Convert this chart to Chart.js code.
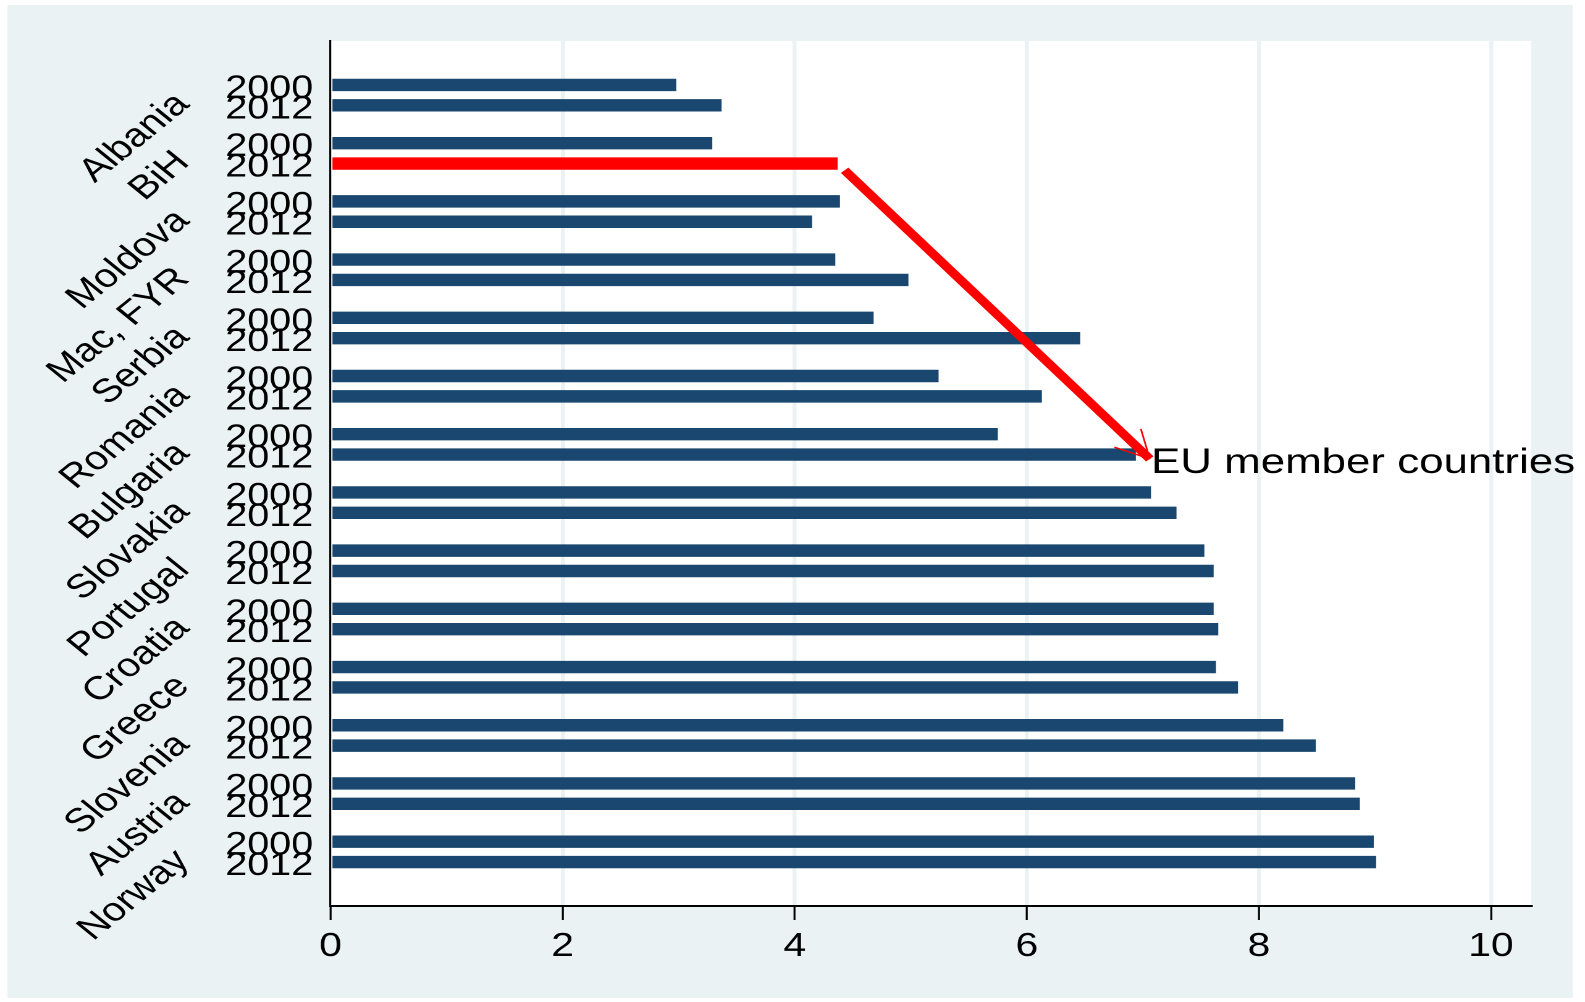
<!DOCTYPE html>
<html lang="en">
<head>
<meta charset="UTF-8">
<title>2000 vs 2012 by country</title>
<script src="https://cdn.jsdelivr.net/npm/chart.js@4"></script>
<style>
  body { margin: 0; background: #fff; }
  #wrap { width: 1585px; height: 1002px; overflow: hidden; }
  /* the original graph is stretched sideways, text included */
  #chart { transform: scaleX(1.2354); transform-origin: 0 0; }
</style>
</head>
<body>
<div id="wrap"><canvas id="chart" width="1283" height="1002"></canvas></div>
<script>
const countries = ['Albania', 'BiH', 'Moldova', 'Mac, FYR', 'Serbia', 'Romania', 'Bulgaria',
                   'Slovakia', 'Portugal', 'Croatia', 'Greece', 'Slovenia', 'Austria', 'Norway'];
const years = ['2000', '2012'];
const values2000 = [2.98, 3.29, 4.39, 4.35, 4.68, 5.24, 5.75, 7.07, 7.53, 7.61, 7.63, 8.21, 8.83, 8.99];
const values2012 = [3.37, 4.37, 4.15, 4.98, 6.46, 6.13, 6.94, 7.29, 7.61, 7.65, 7.82, 8.49, 8.87, 9.01];
const xTicks = [0, 2, 4, 6, 8, 10];
const highlight = 'BiH';
// arrow in data units: [value, country position]
const arrowStart = [4.43, 1.29];
const arrowEnd = [7.06, 6.25];
const arrowLabel = 'EU member countries';

const navy = '#1a476f';
const red = '#ff0000';
const panel = '#eaf2f3';
const font = '"Liberation Sans", Arial, sans-serif';

const decor = {
    id: 'decor',
    beforeDraw(chart) {
        const { ctx, chartArea: a } = chart;
        ctx.save();
        ctx.fillStyle = panel;
        ctx.fillRect(6, 5, 1267, 993);
        ctx.fillStyle = '#fff';
        ctx.fillRect(a.left, a.top, a.right - a.left, a.bottom - a.top);
        ctx.restore();
    },
    afterDraw(chart) {
        const ctx = chart.ctx;
        const xs = chart.scales.x, ys = chart.scales.y;
        ctx.save();
        ctx.fillStyle = '#000';

        // year label beside every bar
        ctx.font = '32px ' + font;
        ctx.textAlign = 'right';
        ctx.textBaseline = 'alphabetic';
        chart.data.datasets.forEach((ds, d) => {
            chart.getDatasetMeta(d).data.forEach(bar => {
                ctx.fillText(ds.label, xs.left - 14, bar.y + 13);
            });
        });

        // country names, slanted
        ctx.font = '33px ' + font;
        ctx.textBaseline = 'middle';
        countries.forEach((c, i) => {
            ctx.save();
            ctx.translate(148, ys.getPixelForValue(i) + 4);
            ctx.rotate(-Math.PI / 4);
            ctx.fillText(c, 0, 0);
            ctx.restore();
        });

        // arrow
        const x0 = xs.getPixelForValue(arrowStart[0]), y0 = ys.getPixelForValue(arrowStart[1]);
        const x1 = xs.getPixelForValue(arrowEnd[0]), y1 = ys.getPixelForValue(arrowEnd[1]);
        ctx.strokeStyle = red;
        ctx.lineWidth = 8;
        ctx.beginPath();
        ctx.moveTo(x0, y0);
        ctx.lineTo(x1, y1);
        ctx.stroke();
        const back = Math.atan2(y0 - y1, x0 - x1);
        ctx.lineWidth = 1.4;
        ctx.beginPath();
        [27, -27].forEach(deg => {
            const a = back + deg * Math.PI / 180;
            ctx.moveTo(x1, y1);
            ctx.lineTo(x1 + 31 * Math.cos(a), y1 + 31 * Math.sin(a));
        });
        ctx.stroke();

        ctx.font = '35.5px ' + font;
        ctx.textAlign = 'left';
        ctx.textBaseline = 'alphabetic';
        ctx.fillText(arrowLabel, x1 + 1, y1 + 14);
        ctx.restore();
    }
};

new Chart(document.getElementById('chart'), {
    type: 'bar',
    data: {
        datasets: [
            {
                label: years[0],
                data: values2000.map((v, i) => ({ x: v, y: i })),
                backgroundColor: navy
            },
            {
                label: years[1],
                data: values2012.map((v, i) => ({ x: v, y: i })),
                backgroundColor: countries.map(c => c === highlight ? red : navy)
            }
        ]
    },
    options: {
        indexAxis: 'y',
        responsive: false,
        animation: false,
        devicePixelRatio: 2,
        datasets: { bar: { categoryPercentage: 0.70, barPercentage: 0.61 } },
        layout: { padding: { left: 267.5, top: 41, right: 43.7, bottom: 0 } },
        plugins: { legend: { display: false }, tooltip: { enabled: false } },
        scales: {
            x: {
                type: 'linear',
                position: 'bottom',
                min: 0,
                max: 10.345,
                afterBuildTicks: s => { s.ticks = xTicks.map(v => ({ value: v })); },
                afterFit: s => { s.height = 96; },
                grid: {
                    color: c => (c.tick && c.tick.value === 0) ? 'rgba(0,0,0,0)' : panel,
                    lineWidth: 3.2,
                    tickColor: '#000',
                    tickWidth: 1.6,
                    tickLength: 14
                },
                border: { display: true, color: '#000', width: 2 },
                ticks: { color: '#000', font: { family: font, size: 33 }, padding: 7, maxRotation: 0 }
            },
            y: {
                type: 'linear',
                position: 'left',
                reverse: true,
                offset: false,
                min: -0.93,
                max: 13.93,
                afterBuildTicks: s => { s.ticks = countries.map((c, i) => ({ value: i })); },
                afterFit: s => { s.width = 0; },
                grid: { display: false, offset: false },
                ticks: { display: false },
                border: { display: true, color: '#000', width: 1.6 }
            }
        }
    },
    plugins: [decor]
});
</script>
</body>
</html>
